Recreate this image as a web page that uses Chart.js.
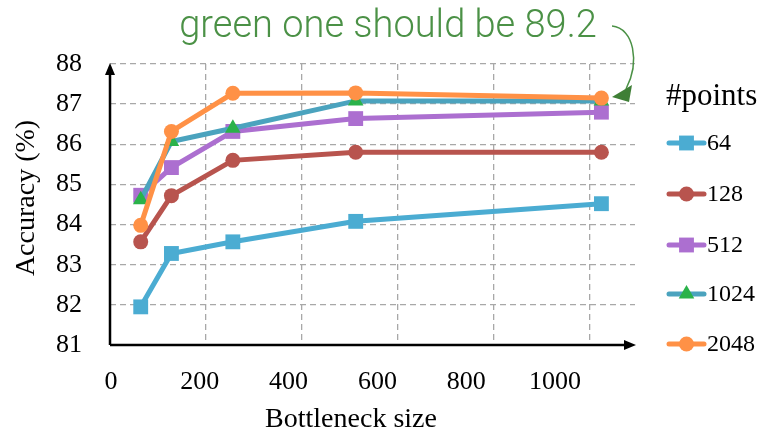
<!DOCTYPE html>
<html>
<head>
<meta charset="utf-8">
<script src="https://cdn.jsdelivr.net/npm/chart.js@4/dist/chart.umd.min.js"></script>
<style>
  html, body { margin: 0; padding: 0; background: #fff; }
  #wrap { width: 764px; height: 438px; position: relative; }
</style>
</head>
<body>
<div id="wrap"><canvas id="chart"></canvas></div>
<script>
// bottleneck sizes (x) and accuracy per #points (y)
const bottleneck = [64, 128, 256, 512, 1024];
const acc64   = [81.95, 83.28, 83.57, 84.08, 84.52];
const acc128  = [83.57, 84.72, 85.60, 85.80, 85.80];
const acc512  = [84.73, 85.42, 86.32, 86.64, 86.80];
const acc1024 = [84.62, 86.07, 86.40, 87.08, 87.08];
const acc2048 = [83.98, 86.32, 87.27, 87.28, 87.15];

const xTicks = [0, 200, 400, 600, 800, 1000];
const yTicks = [81, 82, 83, 84, 85, 86, 87, 88];

const SERIF = "'Liberation Serif', 'Times New Roman', serif";

const toPts = arr => bottleneck.map((b, i) => ({ x: b, y: arr[i] }));

function series(label, values, lineColor, markColor, style, radius, order) {
    return {
        label,
        data: toPts(values),
        xAxisID: 'x',
        borderColor: lineColor,
        backgroundColor: markColor,
        pointBackgroundColor: markColor,
        pointBorderColor: markColor,
        pointBorderWidth: 0,
        pointStyle: style,
        pointRadius: radius,
        borderWidth: 5,
        tension: 0,
        order
    };
}

const datasets = [
    series('64',   acc64,   '#4bacd2', '#4bacd2', 'rect',     10.5, 5),
    series('128',  acc128,  '#b8544e', '#b8544e', 'circle',   7.5,  4),
    series('512',  acc512,  '#ac6fd0', '#ac6fd0', 'rect',     10.5, 3),
    series('1024', acc1024, '#4ba3be', '#2ab24a', 'triangle', 9,    2),
    series('2048', acc2048, '#ff9146', '#ff9146', 'circle',   7.5,  1)
];

// axes with arrowheads, titles, legend and the annotation
const decorations = {
    id: 'decorations',
    beforeDatasetsDraw(chart) {
        const { ctx, chartArea: a } = chart;
        ctx.save();
        ctx.strokeStyle = '#000';
        ctx.fillStyle = '#000';
        ctx.lineWidth = 2.5;
        ctx.beginPath();
        ctx.moveTo(a.left, a.bottom);
        ctx.lineTo(a.left, a.top + 6);
        ctx.moveTo(a.left, a.bottom);
        ctx.lineTo(a.right - 6, a.bottom);
        ctx.stroke();
        // arrowheads
        ctx.beginPath();
        ctx.moveTo(a.left, a.top - 1);
        ctx.lineTo(a.left - 5, a.top + 11);
        ctx.lineTo(a.left + 5, a.top + 11);
        ctx.closePath();
        ctx.fill();
        ctx.beginPath();
        ctx.moveTo(a.right + 1, a.bottom);
        ctx.lineTo(a.right - 11, a.bottom - 5);
        ctx.lineTo(a.right - 11, a.bottom + 5);
        ctx.closePath();
        ctx.fill();
        ctx.restore();
    },
    afterDraw(chart) {
        const { ctx } = chart;
        ctx.save();
        // axis titles
        ctx.fillStyle = '#000';
        ctx.font = '28px ' + SERIF;
        ctx.textAlign = 'center';
        ctx.textBaseline = 'middle';
        ctx.fillText('Bottleneck size', 351, 420);
        ctx.save();
        ctx.translate(27, 198);
        ctx.rotate(-Math.PI / 2);
        ctx.fillText('Accuracy (%)', 0, 0);
        ctx.restore();

        // legend
        ctx.textAlign = 'left';
        ctx.font = '31px ' + SERIF;
        ctx.fillText('#points', 666, 97);
        ctx.font = '24px ' + SERIF;
        const rowY = [143, 194, 245, 294, 344];
        chart.data.datasets.forEach((ds, i) => {
            const y = rowY[i];
            ctx.strokeStyle = ds.borderColor;
            ctx.lineWidth = 5;
            ctx.lineCap = 'round';
            ctx.beginPath();
            ctx.moveTo(669, y);
            ctx.lineTo(704, y);
            ctx.stroke();
            ctx.fillStyle = ds.pointBackgroundColor;
            Chart.helpers.drawPoint(ctx, {
                pointStyle: ds.pointStyle,
                radius: ds.pointRadius,
                rotation: 0,
                borderWidth: 0
            }, 686.5, y);
            ctx.fillStyle = '#000';
            ctx.fillText(ds.label, 707, y + 1);
        });

        // annotation
        const green = '#4b9146';
        ctx.fillStyle = green;
        ctx.strokeStyle = green;
        ctx.font = '300 38px Roboto';
        ctx.textAlign = 'center';
        ctx.textBaseline = 'alphabetic';
        ctx.fillText('green one should be 89.2', 388, 37);
        ctx.lineWidth = 1.5;
        ctx.lineCap = 'butt';
        ctx.beginPath();
        ctx.moveTo(612, 26);
        ctx.bezierCurveTo(634, 28, 640, 62, 626, 89);
        ctx.stroke();
        ctx.fillStyle = '#3f7f36';
        ctx.beginPath();
        ctx.moveTo(612, 97);
        ctx.lineTo(632, 85);
        ctx.lineTo(629, 102);
        ctx.closePath();
        ctx.fill();
        ctx.restore();
    }
};

new Chart(document.getElementById('chart'), {
    type: 'line',
    data: { datasets },
    plugins: [decorations],
    options: {
        responsive: true,
        maintainAspectRatio: false,
        animation: false,
        events: [],
        layout: { padding: { left: 0, right: 129, top: 64, bottom: 0 } },
        plugins: { legend: { display: false }, tooltip: { enabled: false } },
        scales: {
            // data axis: carries the grid only
            x: {
                type: 'linear',
                position: 'bottom',
                min: 0,
                max: 1094,
                afterBuildTicks: s => { s.ticks = xTicks.map(v => ({ value: v })); },
                afterFit: s => { s.height = 0; },
                border: { display: false, dash: [6, 4] },
                grid: {
                    color: c => c.tick && c.tick.value === 0 ? 'rgba(0,0,0,0)' : '#a8a8a8',
                    lineWidth: 1.3,
                    drawTicks: false
                },
                ticks: { display: false }
            },
            // label axis: the original figure's tick labels sit on a slightly narrower scale
            xl: {
                type: 'linear',
                position: 'bottom',
                min: -2.25,
                max: 1180.2,
                afterBuildTicks: s => { s.ticks = xTicks.map(v => ({ value: v })); },
                afterFit: s => { s.height = 93; },
                border: { display: false },
                grid: { display: false, drawTicks: false },
                ticks: {
                    padding: 22,
                    color: '#000',
                    font: { family: SERIF, size: 26 },
                    maxRotation: 0,
                    callback: v => String(v)
                }
            },
            y: {
                min: 81,
                max: 88,
                afterBuildTicks: s => { s.ticks = yTicks.map(v => ({ value: v })); },
                afterFit: s => { s.width = 110; },
                border: { display: false, dash: [6, 4] },
                grid: {
                    color: c => c.tick && c.tick.value === 81 ? 'rgba(0,0,0,0)' : '#a8a8a8',
                    lineWidth: 1.3,
                    drawTicks: false
                },
                ticks: {
                    padding: 28,
                    color: '#000',
                    font: { family: SERIF, size: 26 }
                }
            }
        }
    }
});
</script>
</body>
</html>
